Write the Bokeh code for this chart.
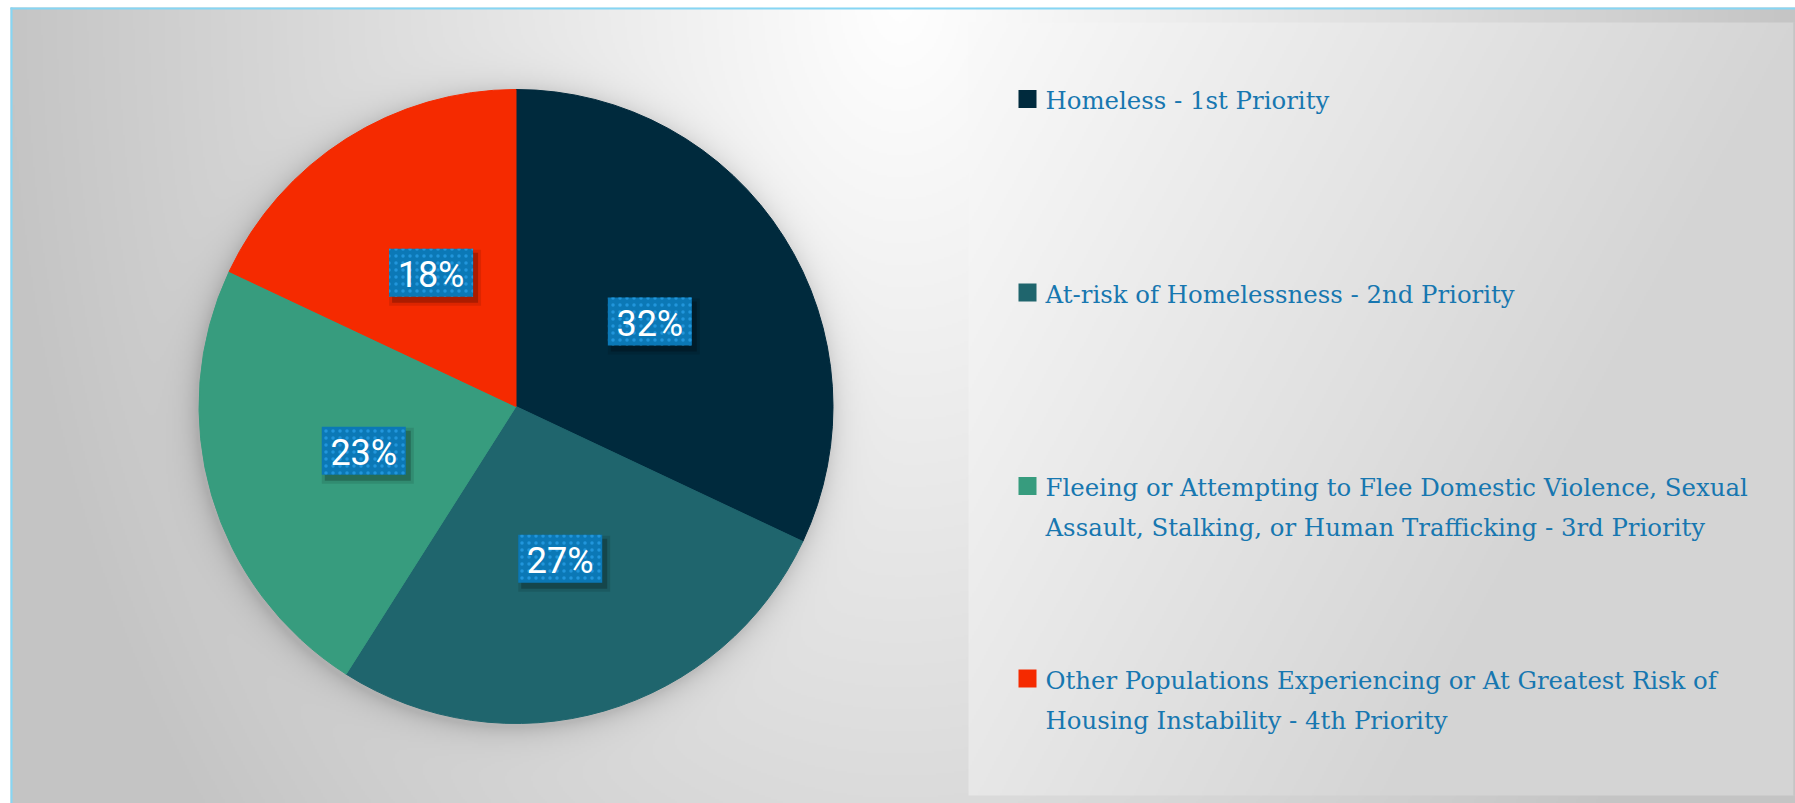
import numpy as np
from bokeh.plotting import figure
from bokeh.models import Range1d, ColumnDataSource
from bokeh.core.properties import value
from bokeh.embed import file_html
from bokeh.resources import INLINE

# ---------------- data ----------------
categories = [
    "Homeless - 1st Priority",
    "At-risk of Homelessness - 2nd Priority",
    "Fleeing or Attempting to Flee Domestic Violence, Sexual Assault, Stalking, or Human Trafficking - 3rd Priority",
    "Other Populations Experiencing or At Greatest Risk of Housing Instability - 4th Priority",
]
legend_lines = [
    ["Homeless - 1st Priority"],
    ["At-risk of Homelessness - 2nd Priority"],
    ["Fleeing or Attempting to Flee Domestic Violence, Sexual",
     "Assault, Stalking, or Human Trafficking - 3rd Priority"],
    ["Other Populations Experiencing or At Greatest Risk of",
     "Housing Instability - 4th Priority"],
]
shares = [32, 27, 23, 18]
pct_labels = ["32%", "27%", "23%", "18%"]
colors = ["#002A3D", "#1F656D", "#379C7E", "#F52A00"]

# ---------------- layout helpers (screen px -> data) ----------------
W, H = 1795, 803
def dx(sx):
    return sx
def dy(sy):
    return H - sy

cx, cy, R = dx(515.5), dy(406), 317

p = figure(width=W, height=H, output_backend="svg", toolbar_location=None,
           x_range=Range1d(0, W), y_range=Range1d(0, H),
           x_axis_location=None, y_axis_location=None, min_border=0)
p.grid.visible = False
p.outline_line_color = None
p.background_fill_color = "white"
p.border_fill_color = "white"

# ---------------- background gradient with pie shadow ----------------
s = 2
x0b, y0b = 10, 8   # screen origin of the chart area
mw, mh = (W - x0b) // s + 1, (H - y0b) // s + 1
xs = x0b + (np.arange(mw) + 0.5) * s
ys = H - (np.arange(mh) + 0.5) * s
X, Y = np.meshgrid(xs, ys)
rad = np.sqrt(((X - 900) / 900.0) ** 2 + ((Y - 0) / 1300.0) ** 2)
v = 1.0 - 0.23 * np.minimum(1.0, rad)
d = np.sqrt((X - 513) ** 2 + (Y - 410) ** 2)
sh = np.where(d > R, np.exp(-(d - R) / 12.0), 1.0)
v = v * (1 - 0.15 * sh)
img = np.empty((mh, mw), dtype=np.uint32)
view = img.view(dtype=np.uint8).reshape((mh, mw, 4))
g = np.clip(v * 255, 0, 255).astype(np.uint8)
view[..., 0] = g
view[..., 1] = g
view[..., 2] = g
view[..., 3] = 255
p.image_rgba(image=[img], x=dx(x0b), y=0, dw=mw * s, dh=mh * s)

# legend box gradient
lx0, ly0, lx1, ly1 = 968, 22, 1794, 795
bw, bh = (lx1 - lx0) // s, (ly1 - ly0) // s
bxs = lx0 + (np.arange(bw) + 0.5) * s
bys = ly1 - (np.arange(bh) + 0.5) * s
BX, BY = np.meshgrid(bxs, bys)
tx = (BX - lx0) / (lx1 - lx0)
ty = (BY - ly0) / (ly1 - ly0)
bv = 0.98 - 0.145 * np.minimum(1.0, tx + 0.5 * ty)
bimg = np.empty((bh, bw), dtype=np.uint32)
bview = bimg.view(dtype=np.uint8).reshape((bh, bw, 4))
bg = np.clip(bv * 255, 0, 255).astype(np.uint8)
bview[..., 0] = bg
bview[..., 1] = bg
bview[..., 2] = bg
bview[..., 3] = 255
p.image_rgba(image=[bimg], x=dx(lx0), y=dy(ly1), dw=lx1 - lx0, dh=ly1 - ly0)
p.segment(x0=dx(1793.5), y0=dy(ly1), x1=dx(1793.5), y1=dy(ly0), line_color="#BEBEBE", line_width=1)

# frame border (top and left)
p.segment(x0=dx(10), y0=dy(8), x1=W, y1=dy(8), line_color="#86D6F4", line_width=2)
p.segment(x0=dx(11), y0=0, x1=dx(11), y1=dy(7), line_color="#86D6F4", line_width=2)

# ---------------- pie ----------------
frac = np.array(shares, dtype=float) / sum(shares)
cum = np.concatenate([[0.0], np.cumsum(frac)])
start = np.pi / 2 - 2 * np.pi * cum[:-1]
end = np.pi / 2 - 2 * np.pi * cum[1:]
src = ColumnDataSource(dict(start=start, end=end, color=colors, cat=categories))
p.wedge(x=cx, y=cy, radius=R, start_angle="start", end_angle="end",
        direction="clock", fill_color="color", line_color="color", line_width=1, source=src)

mid = (cum[:-1] + cum[1:]) / 2
ang = np.pi / 2 - 2 * np.pi * mid
lxs = cx + 0.5 * R * np.cos(ang)
lys = cy + 0.5 * R * np.sin(ang)
lsrc = ColumnDataSource(dict(x=lxs, y=lys, xs=lxs + 4, ys=lys - 5, tb=lys - 2, text=pct_labels))
p.rect(x="xs", y="ys", width=92, height=56, fill_color="black", fill_alpha=0.10, line_color=None, source=lsrc)
p.rect(x="xs", y="ys", width=86, height=50, fill_color="black", fill_alpha=0.22, line_color=None, source=lsrc)
p.rect(x="x", y="y", width=84, height=48, fill_color="#0B78B6", line_color=None,
       hatch_pattern="dot", hatch_color="#2196DC", hatch_scale=7, hatch_weight=2.5, source=lsrc)
p.text(x="x", y="tb", text="text", text_align="center", text_baseline="alphabetic",
       text_font=value("Roboto"), text_font_size="36px", text_color="white", source=lsrc)

# ---------------- legend ----------------
square_centers = [98.5, 292, 485.5, 678]
first_baselines = [100, 293.5, 487, 680]
line_gap = 40
p.rect(x=[dx(1027)] * 4, y=[dy(c) for c in square_centers], width=18, height=18,
       fill_color=colors, line_color=None)
tx_, ty_, tt_ = [], [], []
for lines, b in zip(legend_lines, first_baselines):
    for k, ln in enumerate(lines):
        tx_.append(dx(1045))
        ty_.append(dy(b + k * line_gap))
        tt_.append(ln)
p.text(x=tx_, y=ty_, text=tt_, text_align="left", text_baseline="alphabetic",
       text_font=value("DejaVu Serif"), text_font_size="24.4px", text_color="#1777B0")

open("out.html", "w").write(file_html(p, INLINE))
